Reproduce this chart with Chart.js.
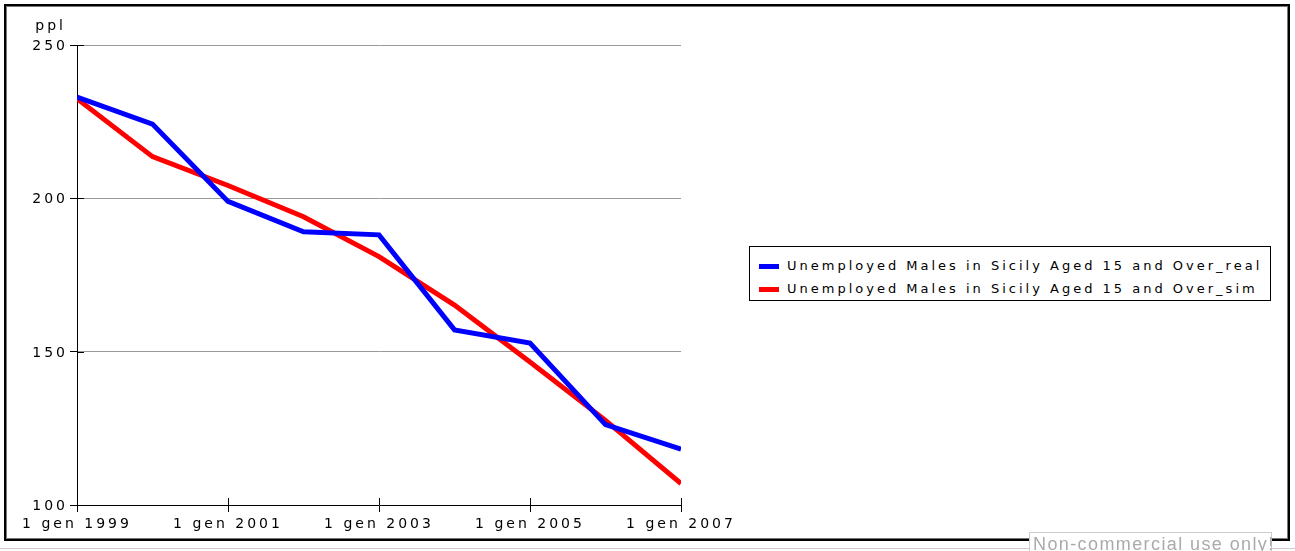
<!DOCTYPE html>
<html>
<head>
<meta charset="utf-8">
<title>Unemployed Males in Sicily</title>
<script src="https://cdn.jsdelivr.net/npm/chart.js@4/dist/chart.umd.min.js"></script>
<style>
    body { margin: 0; background: #fff; }
    #wrap { position: relative; width: 1295px; height: 551px; overflow: hidden; }
    #frame {
        position: absolute; left: 4px; top: 4px; width: 1282px; height: 533px;
        border: 2px solid #000; box-shadow: inset 0 0 0 1px #777; pointer-events: none;
    }
    #bottomLine { position: absolute; left: 0; top: 548px; width: 1295px; height: 1px; background: #ccc; }
    #legend {
        position: absolute; left: 749px; top: 246px; width: 520px; height: 53px;
        border: 1px solid #000; background: #fff;
        font-family: "DejaVu Sans", sans-serif; font-size: 13px; letter-spacing: 3px; color: #000;
    }
    #legend .row { position: absolute; left: 9px; height: 20px; line-height: 20px; white-space: nowrap; }
    #legend .swatch { display: inline-block; width: 20px; height: 5px; vertical-align: middle; margin-right: 8px; }
    #watermark {
        position: absolute; left: 1029px; top: 532px; width: 243px; height: 22px;
        border: 1px solid #ccc; background: #fff; color: #aaa;
        font-family: "Liberation Sans", Arial, sans-serif; font-size: 18px; letter-spacing: 1.4px;
        line-height: 20px; padding-top: 1px; padding-left: 3px; box-sizing: border-box;
        white-space: nowrap;
    }
</style>
</head>
<body>
<div id="wrap">
    <canvas id="myChart"></canvas>
    <div id="frame"></div>
    <div id="bottomLine"></div>
    <div id="legend"></div>
    <div id="watermark">Non-commercial use only!</div>
</div>
<script>
const years = [1999, 2000, 2001, 2002, 2003, 2004, 2005, 2006, 2007];
const realValues = [233, 224.2, 199, 189.1, 188.1, 157.1, 152.8, 126.2, 118.2];
const simValues = [232.5, 213.6, 204.2, 194, 181, 165.2, 146.6, 127.6, 107];
const xTickYears = [1999, 2001, 2003, 2005, 2007];
const xTickLabels = ['1 gen 1999', '1 gen 2001', '1 gen 2003', '1 gen 2005', '1 gen 2007'];
const yTicks = [100, 150, 200, 250];
const seriesNames = ['Unemployed Males in Sicily Aged 15 and Over_real', 'Unemployed Males in Sicily Aged 15 and Over_sim'];
const unitLabel = 'ppl';

Chart.defaults.font.family = 'DejaVu Sans';
Chart.defaults.font.size = 14;
Chart.defaults.color = '#000';

function toPoints(values) {
    return values.map((v, i) => ({ x: years[i], y: v }));
}

function spaced(chart) {
    chart.ctx.letterSpacing = '3px';
}

// wide letter spacing on canvas text, inward tick stubs, y labels and unit label
const axisExtras = {
    id: 'axisExtras',
    beforeUpdate: spaced,
    beforeDraw: spaced,
    afterDraw(chart) {
        const ctx = chart.ctx;
        const xs = chart.scales.x;
        const ys = chart.scales.y;
        ctx.save();
        ctx.strokeStyle = '#000';
        ctx.lineWidth = 1;
        ctx.beginPath();
        xs.ticks.forEach(t => {
            const px = Math.round(xs.getPixelForValue(t.value)) + 0.5;
            ctx.moveTo(px, ys.bottom);
            ctx.lineTo(px, ys.bottom - 7);
        });
        ys.ticks.forEach(t => {
            const py = Math.round(ys.getPixelForValue(t.value)) + 0.5;
            ctx.moveTo(xs.left, py);
            ctx.lineTo(xs.left + 7, py);
        });
        ctx.stroke();

        ctx.letterSpacing = '3px';
        ctx.font = '14px "DejaVu Sans"';
        ctx.fillStyle = '#000';
        ctx.textAlign = 'right';
        ctx.textBaseline = 'middle';
        ys.ticks.forEach(t => {
            ctx.fillText(String(t.value), ys.right - 9, ys.getPixelForValue(t.value) + 1.5);
        });
        ctx.textBaseline = 'alphabetic';
        ctx.fillText(unitLabel, ys.right - 11, ys.top - 15);
        ctx.restore();
    }
};

function createChart() {
    const ctx = document.getElementById('myChart').getContext('2d');
    return new Chart(ctx, {
        type: 'line',
        data: {
            datasets: [{
                label: seriesNames[0],
                data: toPoints(realValues),
                borderColor: '#0000ff',
                backgroundColor: '#0000ff',
                borderWidth: 5,
                pointRadius: 0,
                tension: 0
            },
            {
                label: seriesNames[1],
                data: toPoints(simValues),
                borderColor: '#ff0000',
                backgroundColor: '#ff0000',
                borderWidth: 5,
                pointRadius: 0,
                tension: 0
            }]
        },
        options: {
            responsive: false,
            animation: false,
            layout: { padding: { left: 0, top: 45, right: 614, bottom: 0 } },
            plugins: {
                legend: { display: false },
                tooltip: { enabled: false }
            },
            scales: {
                x: {
                    type: 'linear',
                    min: years[0],
                    max: years[years.length - 1],
                    afterBuildTicks: scale => { scale.ticks = xTickYears.map(v => ({ value: v })); },
                    afterFit: scale => { scale.height = 46; },
                    ticks: {
                        padding: 4,
                        maxRotation: 0,
                        callback: value => xTickLabels[xTickYears.indexOf(value)]
                    },
                    grid: { drawOnChartArea: false, tickLength: 7, tickColor: '#000', color: '#000' },
                    border: { color: '#000', width: 1 }
                },
                y: {
                    min: yTicks[0],
                    max: yTicks[yTicks.length - 1],
                    afterBuildTicks: scale => { scale.ticks = yTicks.map(v => ({ value: v })); },
                    afterFit: scale => { scale.width = 77; },
                    ticks: { display: false },
                    grid: {
                        tickLength: 7,
                        tickColor: '#000',
                        color: c => (c.tick && c.tick.value === yTicks[0]) ? 'rgba(0,0,0,0)' : '#999'
                    },
                    border: { color: '#000', width: 1 }
                }
            }
        },
        plugins: [axisExtras]
    });
}

function buildLegend(chart) {
    const box = document.getElementById('legend');
    chart.data.datasets.forEach((ds, i) => {
        const row = document.createElement('div');
        row.className = 'row';
        row.style.top = (9 + i * 23) + 'px';
        row.innerHTML = `<span class="swatch" style="background:${ds.borderColor}"></span>${ds.label}`;
        box.appendChild(row);
    });
}

const canvas = document.getElementById('myChart');
canvas.width = 1295;
canvas.height = 551;
const chart = createChart();
buildLegend(chart);
</script>
</body>
</html>
